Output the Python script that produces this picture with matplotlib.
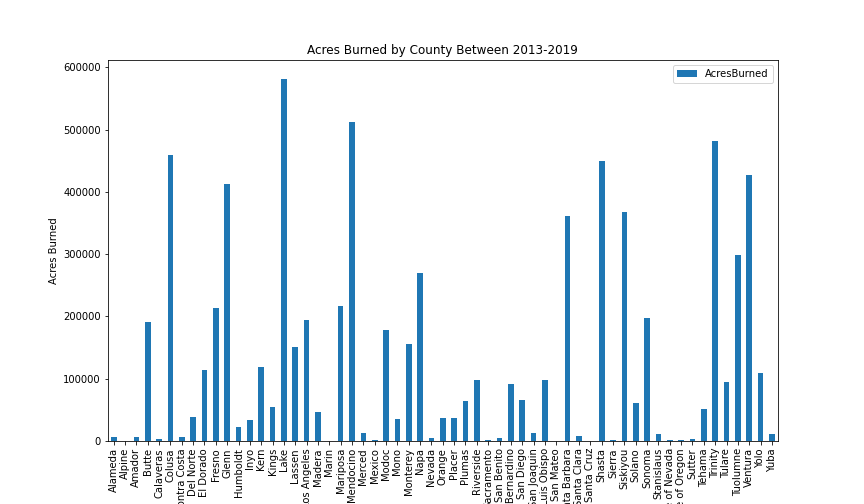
import matplotlib
matplotlib.use("Agg")
import matplotlib.pyplot as plt
import numpy as np

counties = ["Alameda", "Alpine", "Amador", "Butte", "Calaveras", "Colusa", "Contra Costa",
            "Del Norte", "El Dorado", "Fresno", "Glenn", "Humboldt", "Inyo", "Kern", "Kings",
            "Lake", "Lassen", "Los Angeles", "Madera", "Marin", "Mariposa", "Mendocino",
            "Merced", "Mexico", "Modoc", "Mono", "Monterey", "Napa", "Nevada", "Orange",
            "Placer", "Plumas", "Riverside", "Sacramento", "San Benito", "San Bernardino",
            "San Diego", "San Joaquin", "San Luis Obispo", "San Mateo", "Santa Barbara",
            "Santa Clara", "Santa Cruz", "Shasta", "Sierra", "Siskiyou", "Solano", "Sonoma",
            "Stanislaus", "State of Nevada", "State of Oregon", "Sutter", "Tehama", "Trinity",
            "Tulare", "Tuolumne", "Ventura", "Yolo", "Yuba"]
acres = [6000, 300, 6000, 191000, 3000, 460000, 6000,
         39000, 114000, 214000, 413000, 23000, 33000, 119000, 55000,
         582000, 151000, 195000, 46000, 200, 217000, 513000,
         13000, 2000, 178000, 36000, 156000, 269000, 5000, 37000,
         37000, 65000, 98000, 2000, 5000, 92000,
         66000, 13000, 98000, 100, 362000,
         8000, 100, 449000, 2000, 368000, 61000, 198000,
         12000, 2000, 2000, 3000, 52000, 481000,
         95000, 299000, 427000, 110000, 11000]

fig = plt.figure(figsize=(12, 7), dpi=72)
ax = fig.add_axes([0.125, 0.125, 0.775, 0.755])
x = np.arange(len(counties))
ax.bar(x, acres, width=0.5, color="#1f77b4", label="AcresBurned")
ax.set_xticks(x)
ax.set_xticklabels(counties, rotation=90)
ax.set_xlim(-0.5, len(counties) - 0.5)
ax.set_ylabel("Acres Burned")
ax.set_title("Acres Burned by County Between 2013-2019")
ax.legend(loc="upper right")
fig.savefig("out.png", dpi=72)
